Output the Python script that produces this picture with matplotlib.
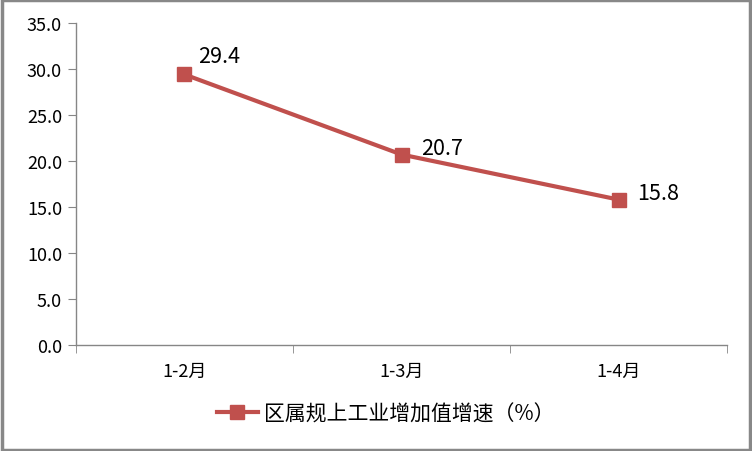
import matplotlib.pyplot as plt
from matplotlib.patches import Rectangle

plt.rcParams['font.family'] = ['Noto Sans CJK SC', 'DejaVu Sans']

# 数据
categories = ["1-2月", "1-3月", "1-4月"]
values = [29.4, 20.7, 15.8]
series_name = "区属规上工业增加值增速（%）"
yticks = [0, 5, 10, 15, 20, 25, 30, 35]
# 数据标签偏移 (points)
label_offsets = [(10, 13), (14, 5), (13, 5)]

color = "#C0504D"
axis_color = "#868686"

fig = plt.figure(figsize=(7.52, 4.52), dpi=100)
ax = fig.add_axes([0.101, 0.2345, 0.866, 0.7125])

x = range(len(categories))
ax.plot(x, values, color=color, lw=3, marker="s", ms=10,
        markerfacecolor=color, markeredgecolor=color, label=series_name)

for i, v in enumerate(values):
    ax.annotate("%.1f" % v, (i, v), xytext=label_offsets[i], textcoords="offset points",
                fontsize=15.5, color="black", va="center", ha="left")

ax.set_xlim(-0.5, len(categories) - 0.5)
ax.set_ylim(0, 35)
ax.set_yticks(yticks)
ax.set_yticklabels(["%.1f" % t for t in yticks], fontsize=13)
ax.set_xticks(list(x))
ax.set_xticklabels(categories, fontsize=13)
ax.tick_params(axis="x", length=0, pad=12)
ax.set_xticks([i - 0.5 for i in range(len(categories) + 1)], minor=True)
ax.tick_params(axis="x", which="minor", length=6, color=axis_color, direction="out")
ax.tick_params(axis="y", length=6, color=axis_color, direction="out", pad=4)

for s in ["top", "right"]:
    ax.spines[s].set_visible(False)
for s in ["left", "bottom"]:
    ax.spines[s].set_color(axis_color)
    ax.spines[s].set_linewidth(1)

leg = fig.legend(loc="center", bbox_to_anchor=(0.513, 0.083), frameon=False,
                 fontsize=15, handlelength=2.0, handletextpad=0.3)

# 外边框
fig.patches.append(Rectangle((0.002, 0.003), 0.996, 0.994, transform=fig.transFigure,
                             fill=False, edgecolor="#888888", lw=2.5))

plt.savefig("out.png", dpi=100)
